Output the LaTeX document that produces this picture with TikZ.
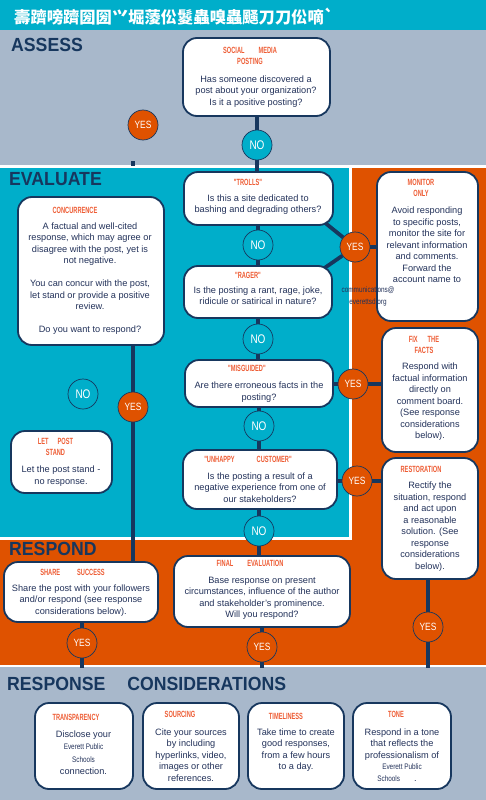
\documentclass[tikz,border=0pt]{standalone}
\usepackage{fontspec}
\setmainfont{Liberation Sans}
\newfontfamily\condfont[FakeStretch=0.63]{Liberation Sans}
\newfontfamily\narrowfont[FakeStretch=0.8]{Liberation Sans}
\newfontfamily\circfont[FakeStretch=0.8]{Liberation Sans}
\newfontfamily\headfont[FakeStretch=0.93]{Liberation Sans}
\newfontfamily\cjkfont{Noto Sans CJK SC}
\definecolor{tealc}{RGB}{0,174,202}
\definecolor{greyc}{RGB}{168,184,203}
\definecolor{orng}{RGB}{223,82,0}
\definecolor{navy}{RGB}{23,55,94}
\definecolor{bodyc}{RGB}{35,50,90}
\definecolor{ttlc}{RGB}{238,92,52}
\pgfdeclarelayer{bg}
\pgfsetlayers{bg,main}
\tikzset{
  flowbox/.style={draw=navy, line width=1.8pt, fill=white, rounded corners=14pt, inner sep=0pt},
  ttl/.style={text=ttlc, font=\condfont\bfseries\fontsize{9}{11}\selectfont, align=center, inner sep=0pt},
  bodytxt/.style={text=bodyc, font=\fontsize{9.2}{11.5}\selectfont, align=center, inner sep=0pt},
  yesc/.style={circle, draw=navy, line width=0.7pt, fill=orng, minimum size=30pt, inner sep=0pt, text=white, font=\circfont\fontsize{10.5}{12}\selectfont},
  noc/.style={circle, draw=navy, line width=0.7pt, fill=tealc, minimum size=30pt, inner sep=0pt, text=white, font=\circfont\fontsize{12.5}{14}\selectfont},
  connline/.style={draw=navy, line width=3.8pt},
  sechead/.style={anchor=west, inner sep=0pt, text=navy, font=\headfont\bfseries\fontsize{19}{20}\selectfont},
  smalltxt/.style={text=bodyc, font=\narrowfont\fontsize{8}{12}\selectfont, align=center, inner sep=0pt}
}
\begin{document}
\begin{tikzpicture}[x=1pt,y=-1pt]
\useasboundingbox (0,0) rectangle (486,800);
\begin{pgfonlayer}{bg}
\fill[white] (0,0) rectangle (486,800);
\fill[tealc] (0,0) rectangle (486,30);
\fill[greyc] (0,30) rectangle (486,165);
\fill[tealc] (0,168) rectangle (349,537);
\fill[orng] (352,168) rectangle (486,665);
\fill[orng] (0,540) rectangle (486,665);
\fill[greyc] (0,667) rectangle (486,800);
\end{pgfonlayer}

% title
\node[anchor=west, inner sep=0pt, text=white, font=\cjkfont\bfseries\fontsize{16.3}{18}\selectfont] (title) at (14,16.5) {壽躋嗙躋圀圀⺍堀蔆伀鬉蟲嗅蟲颾刀刀伀嘀`};

% headings
\node[sechead] (hAssess) at (11,45) {ASSESS};
\node[sechead] (hEval) at (9,179) {EVALUATE};
\node[sechead] (hResp) at (9,549) {RESPOND};
\node[sechead] (hCons) at (7,684) {RESPONSE\hspace{22pt}CONSIDERATIONS};

% assess
\node[flowbox, minimum width=147pt, minimum height=78pt] (social) at (256.5,77) {};
\node[ttl] (socialT) at (250,56) {SOCIAL\hspace{14pt}MEDIA\\POSTING};
\node[bodytxt] (socialB) at (256,91.5) {Has someone discovered a\\post about your organization?\\Is it a positive posting?};
\node[noc] (noA) at (257,145) {NO};
\node[yesc] (yesA) at (143,125) {YES};
\coordinate (tickA) at (133,161);
\coordinate (tickB) at (133,166);

% evaluate - left
\node[flowbox, minimum width=146pt, minimum height=148pt] (conc) at (91,271) {};
\node[ttl] (concT) at (75,210) {CONCURRENCE};
\node[bodytxt] (concB) at (90,278.5) {A factual and well-cited\\response, which may agree or\\disagree with the post, yet is\\not negative.\\[11.5pt]You can concur with the post,\\let stand or provide a positive\\review.\\[11.5pt]Do you want to respond?};
\node[noc] (noL) at (83,394) {NO};
\node[yesc] (yesC) at (133,407) {YES};
\node[flowbox, minimum width=101pt, minimum height=62pt] (letpost) at (61.5,462) {};
\node[ttl] (letpostT) at (55.5,446.5) {LET\hspace{9pt}POST\\STAND};
\node[bodytxt] (letpostB) at (61,476) {Let the post stand -\\no response.};

% evaluate - centre
\node[flowbox, minimum width=149pt, minimum height=53pt] (trolls) at (258.5,198.5) {};
\node[ttl] (trollsT) at (248,182) {"TROLLS"};
\node[bodytxt] (trollsB) at (258,204.5) {Is this a site dedicated to\\bashing and degrading others?};
\node[noc] (noB) at (258,245) {NO};
\node[yesc] (yesT) at (355,247) {YES};
\node[flowbox, minimum width=148pt, minimum height=52pt] (rager) at (258,292) {};
\node[ttl] (ragerT) at (248,275) {"RAGER"};
\node[bodytxt] (ragerB) at (258,295.5) {Is the posting a rant, rage, joke,\\ridicule or satirical in nature?};
\node[noc] (noC) at (258,339) {NO};
\node[flowbox, minimum width=148pt, minimum height=47pt] (misg) at (259,383.5) {};
\node[ttl] (misgT) at (247,368) {"MISGUIDED"};
\node[bodytxt] (misgB) at (259,392) {Are there erroneous facts in the\\posting?};
\node[noc] (noD) at (259,426) {NO};
\node[yesc] (yesF) at (353,384) {YES};
\node[flowbox, minimum width=154pt, minimum height=59pt] (unh) at (260,479.5) {};
\node[ttl] (unhT) at (248,459) {"UNHAPPY\hspace{22pt}CUSTOMER"};
\node[bodytxt] (unhB) at (260,487.5) {Is the posting a result of a\\negative experience from one of\\our stakeholders?};
\node[yesc] (yesU) at (357,481) {YES};
\node[noc] (noE) at (259,531) {NO};

% right column
\node[flowbox, minimum width=101pt, minimum height=149pt] (monitor) at (427.5,246.5) {};
\node[ttl] (monitorT) at (421,187.5) {MONITOR\\ONLY};
\node[bodytxt] (monitorB) at (427,245) {Avoid responding\\to specific posts,\\monitor the site for\\relevant information\\and comments.\\Forward the\\account name to};
\node[smalltxt] (email) at (368,296.5) {communications@\\everettsd.org};
\node[flowbox, minimum width=96pt, minimum height=124pt] (fix) at (430,390) {};
\node[ttl] (fixT) at (424,344.5) {FIX\hspace{10pt}THE\\FACTS};
\node[bodytxt] (fixB) at (430,402) {Respond with\\factual information\\directly on\\comment board.\\(See response\\considerations\\below).};
\node[flowbox, minimum width=96pt, minimum height=121pt] (restoration) at (430,518.5) {};
\node[ttl] (restorationT) at (421,469) {RESTORATION};
\node[bodytxt] (restorationB) at (430,526.5) {Rectify the\\situation, respond\\and act upon\\a reasonable\\solution. (See\\response\\considerations\\below).};
\node[yesc] (yesR) at (428,627) {YES};

% respond
\node[flowbox, minimum width=154pt, minimum height=60pt] (share) at (81,592) {};
\node[ttl] (shareT) at (72.5,572) {SHARE\hspace{17pt}SUCCESS};
\node[bodytxt] (shareB) at (81,600.5) {Share the post with your followers\\and/or respond (see response\\considerations below).};
\node[yesc] (yesS) at (82,643) {YES};
\node[flowbox, minimum width=176pt, minimum height=71pt] (final) at (262,591.5) {};
\node[ttl] (finalT) at (250,563) {FINAL\hspace{14pt}EVALUATION};
\node[bodytxt] (finalB) at (262,598.5) {Base response on present\\circumstances, influence of the author\\and stakeholder's prominence.\\Will you respond?};
\node[yesc] (yesFin) at (262,647) {YES};
\coordinate (endS) at (82,668);
\coordinate (endF) at (262,668);
\coordinate (endR) at (428,668);

% response considerations
\node[flowbox, minimum width=98pt, minimum height=86pt] (trans) at (84,746) {};
\node[ttl] (transT) at (76,717) {TRANSPARENCY};
\node[bodytxt] (transB) at (83.5,752.5) {Disclose your\\[1pt]{\narrowfont\fontsize{8}{10}\selectfont Everett Public}\hspace*{15pt}\\[1pt]{\narrowfont\fontsize{8}{10}\selectfont Schools}\hspace*{16pt}\\[1pt]connection.};
\node[flowbox, minimum width=96pt, minimum height=86pt] (sourcing) at (191,746) {};
\node[ttl] (sourcingT) at (180,714) {SOURCING};
\node[bodytxt] (sourcingB) at (191,755) {Cite your sources\\by including\\hyperlinks, video,\\images or other\\references.};
\node[flowbox, minimum width=96pt, minimum height=86pt] (timeliness) at (296,746) {};
\node[ttl] (timelinessT) at (286,716) {TIMELINESS};
\node[bodytxt] (timelinessB) at (296,750) {Take time to create\\good responses,\\from a few hours\\to a day.};
\node[flowbox, minimum width=98pt, minimum height=86pt] (tone) at (402,746) {};
\node[ttl] (toneT) at (396,714) {TONE};
\node[bodytxt] (toneB) at (402,755) {Respond in a tone\\that reflects the\\professionalism of\\{\narrowfont\fontsize{8}{10}\selectfont Everett Public}\hspace*{24pt}\\{\narrowfont\fontsize{8}{10}\selectfont Schools}\hspace{14pt}.\hspace*{10pt}};

% connectors
\begin{pgfonlayer}{bg}
\draw[connline] (tickA) -- (tickB);
\draw[connline] (social.center -| noA) -- (trolls.center -| noA);
\draw[connline] (trolls.center -| noB) -- (rager.center -| noB);
\draw[connline] (rager.center -| noC) -- (misg.center -| noC);
\draw[connline] (misg.center -| noD) -- (unh.center -| noD);
\draw[connline] (unh.center -| noE) -- (final.center -| noE);
\draw[connline] ([shift={(-10,-4)}]trolls.south east) -- (yesT) -- ([shift={(-10,4)}]rager.north east);
\draw[connline] (yesT) -- (yesT -| monitor.center);
\draw[connline] (misg.center |- yesF) -- (yesF -| fix.center);
\draw[connline] (unh.center |- yesU) -- (yesU -| restoration.center);
\draw[connline] (restoration.center -| yesR) -- (endR);
\draw[connline] (conc.center -| yesC) -- (share.center -| yesC);
\draw[connline] (share.center -| yesS) -- (endS);
\draw[connline] (final.center -| yesFin) -- (endF);
\end{pgfonlayer}
\end{tikzpicture}
\end{document}
